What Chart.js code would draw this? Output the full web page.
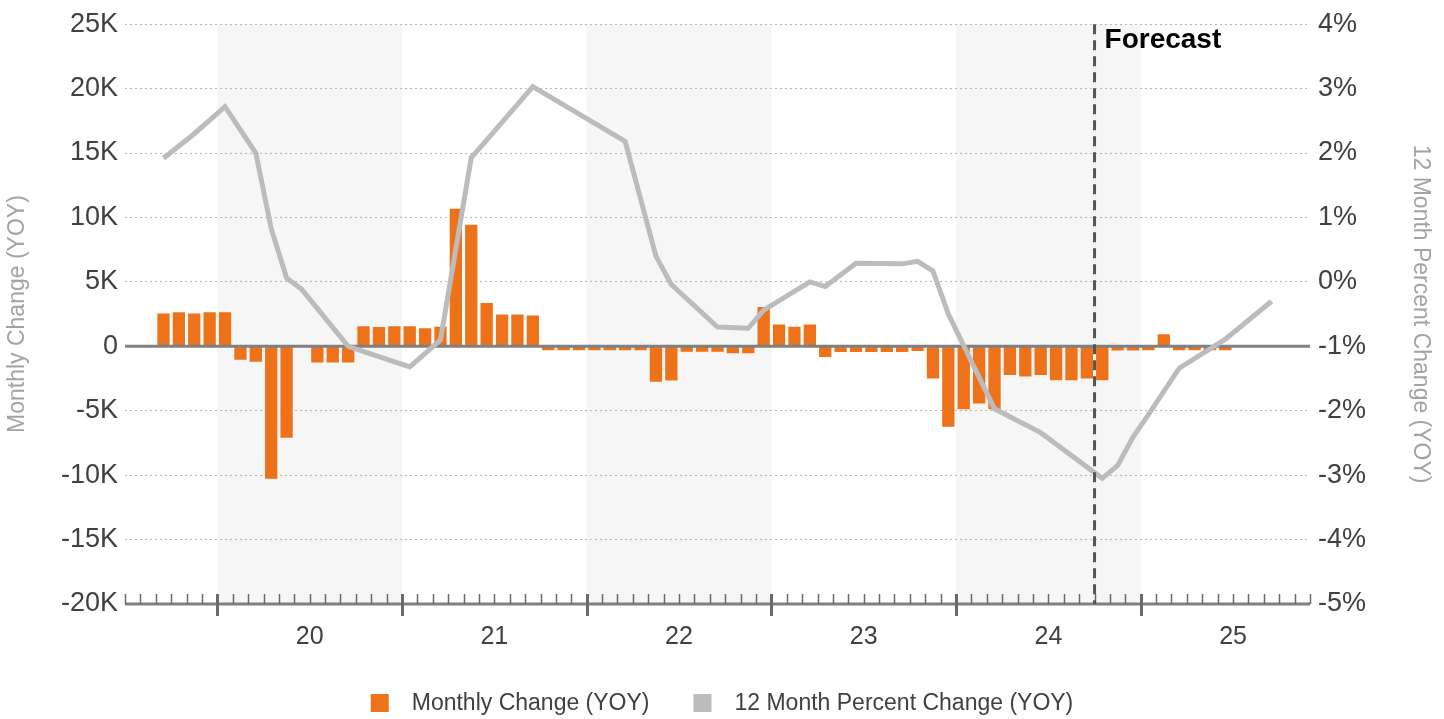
<!DOCTYPE html>
<html>
<head>
<meta charset="utf-8">
<script src="https://cdn.jsdelivr.net/npm/chart.js@4.4.1/dist/chart.umd.min.js"></script>
<style>
    html, body { margin: 0; padding: 0; background: #fff; overflow: hidden; }
</style>
</head>
<body>
<canvas id="chart" width="1444" height="719"></canvas>
<script>
// Months on the axis: Jul 2019 .. Nov 2025
const monthNames = ['Jan', 'Feb', 'Mar', 'Apr', 'May', 'Jun', 'Jul', 'Aug', 'Sep', 'Oct', 'Nov', 'Dec'];
const months = [];
for (let y = 2019; y <= 2025; y++) {
    for (let m = 0; m < 12; m++) {
        if ((y === 2019 && m < 6) || (y === 2025 && m > 10)) continue;
        months.push(monthNames[m] + ' ' + String(y).slice(2));
    }
}

const yearLabels = ['20', '21', '22', '23', '24', '25'];
const shadedYears = ['20', '22', '24'];
const forecastStart = 'Oct 24';

// Monthly change (YOY), units
const monthlyChange = [
    null, null, 2550, 2650, 2550, 2650,
    2650, -1040, -1190, -10270, -7100, null, -1250, -1250, -1250, 1550, 1500, 1550,
    1550, 1400, 1520, 10670, 9430, 3370, 2470, 2470, 2400, -310, -310, -310,
    -310, -310, -310, -310, -2760, -2660, -420, -420, -420, -540, -540, 3060,
    1700, 1520, 1700, -830, -440, -440, -440, -440, -440, -360, -2500, -6240,
    -4880, -4440, -4880, -2220, -2350, -2220, -2630, -2630, -2500, -2630, -330, -330,
    -300, 930, -300, -300, -300, -300, null, null, null, null, null,
];

// 12 month percent change (YOY), %  (null = no visible vertex, line spans it)
const pctChange = [
    null, null, 1.92, null, 2.30, null,
    2.72, null, 2.00, 0.83, 0.06, -0.12, null, null, -1.00, null, null, null,
    -1.32, null, -0.90, null, 1.93, 2.20, null, null, 3.03, null, null, null,
    null, null, 2.18, null, 0.40, -0.04, null, null, -0.70, null, -0.72, -0.44,
    null, null, 0.00, -0.07, null, 0.29, null, null, 0.28, 0.32, 0.17, -0.50,
    null, null, -1.97, null, null, -2.34, null, null, null, -3.05, -2.85, -2.41,
    -2.06, null, -1.34, null, null, -0.89, null, null, -0.30, null, null,
];

const FONT = '"Liberation Sans", Arial, sans-serif';
const ORANGE = '#ee7219';
const GREY_LINE = '#bcbcbc';
const TEXT = '#404040';

const decor = {
    id: 'decor',
    beforeDraw(chart) {
        const { ctx, chartArea: a, scales: { x } } = chart;
        const step = x.getPixelForValue(1) - x.getPixelForValue(0);
        ctx.save();
        ctx.fillStyle = '#f6f6f6';
        shadedYears.forEach(yr => {
            const i = months.indexOf('Jan ' + yr);
            const x0 = x.getPixelForValue(i) - step / 2;
            ctx.fillRect(x0, a.top, step * 12, a.bottom - a.top);
        });
        ctx.restore();
    },
    afterDatasetDraw(chart, args) {
        if (args.index !== 0) return;
        const { ctx, chartArea: a, scales: { x, y } } = chart;
        const step = x.getPixelForValue(1) - x.getPixelForValue(0);
        ctx.save();
        // zero line
        const y0 = y.getPixelForValue(0);
        ctx.strokeStyle = '#808080';
        ctx.lineWidth = 3;
        ctx.beginPath();
        ctx.moveTo(a.left, y0);
        ctx.lineTo(a.right, y0);
        ctx.stroke();
        // bottom axis
        ctx.beginPath();
        ctx.moveTo(a.left, a.bottom);
        ctx.lineTo(a.right, a.bottom);
        ctx.stroke();
        // month ticks, bigger at year starts
        ctx.strokeStyle = '#6a6a6a';
        for (let i = 0; i <= months.length; i++) {
            const bx = Math.round(x.getPixelForValue(0) - step / 2 + i * step) + 0.5;
            const major = i > 0 && i < months.length && months[i].startsWith('Jan');
            ctx.lineWidth = major ? 3 : 1.5;
            ctx.beginPath();
            ctx.moveTo(bx, a.bottom - 10);
            ctx.lineTo(bx, a.bottom + (major ? 12 : 0));
            ctx.stroke();
        }
        ctx.restore();
    },
    afterDatasetsDraw(chart) {
        const { ctx, chartArea: a, scales: { x } } = chart;
        const step = x.getPixelForValue(1) - x.getPixelForValue(0);
        const fx = x.getPixelForValue(months.indexOf(forecastStart)) - step / 2;
        ctx.save();
        ctx.strokeStyle = '#555555';
        ctx.lineWidth = 3;
        ctx.setLineDash([10, 6]);
        ctx.beginPath();
        ctx.moveTo(fx, a.top);
        ctx.lineTo(fx, a.bottom);
        ctx.stroke();
        ctx.setLineDash([]);
        ctx.fillStyle = '#000';
        ctx.font = 'bold 28px ' + FONT;
        ctx.textBaseline = 'middle';
        ctx.textAlign = 'left';
        ctx.fillText('Forecast', fx + 10, a.top + 16);
        ctx.restore();
    },
    afterDraw(chart) {
        const { ctx, chartArea: a, scales: { x } } = chart;
        const step = x.getPixelForValue(1) - x.getPixelForValue(0);
        ctx.save();
        // year labels, centred in each year
        ctx.fillStyle = TEXT;
        ctx.font = '25px ' + FONT;
        ctx.textAlign = 'center';
        ctx.textBaseline = 'middle';
        yearLabels.forEach(yr => {
            const i = months.indexOf('Jan ' + yr);
            const cx = x.getPixelForValue(i) - step / 2 + step * 6;
            ctx.fillText(yr, cx, a.bottom + 33);
        });
        // legend
        const items = chart.data.datasets.map(ds => ({ text: ds.label, color: ds.legendColor }));
        ctx.font = '23px ' + FONT;
        const box = 18, gap = 23, itemGap = 44;
        const widths = items.map(it => box + gap + ctx.measureText(it.text).width);
        const total = widths.reduce((s, w) => s + w, 0) + itemGap * (items.length - 1);
        let lx = chart.width / 2 - total / 2;
        const ly = 703;
        ctx.textAlign = 'left';
        items.forEach((it, i) => {
            ctx.fillStyle = it.color;
            ctx.fillRect(lx, ly - box / 2, box, box);
            ctx.fillStyle = TEXT;
            ctx.fillText(it.text, lx + box + gap, ly + 1);
            lx += widths[i] + itemGap;
        });
        ctx.restore();
    },
};

new Chart(document.getElementById('chart'), {
    type: 'bar',
    data: {
        labels: months,
        datasets: [
            {
                label: 'Monthly Change (YOY)',
                data: monthlyChange,
                backgroundColor: ORANGE,
                legendColor: ORANGE,
                barPercentage: 0.8,
                categoryPercentage: 1,
                yAxisID: 'y',
                order: 1,
            },
            {
                type: 'line',
                label: '12 Month Percent Change (YOY)',
                data: pctChange,
                borderColor: GREY_LINE,
                backgroundColor: GREY_LINE,
                legendColor: GREY_LINE,
                borderWidth: 5,
                pointRadius: 0,
                tension: 0,
                spanGaps: true,
                fill: false,
                yAxisID: 'y1',
                order: 0,
            },
        ],
    },
    options: {
        responsive: false,
        animation: false,
        layout: { padding: { top: 22, bottom: 0, left: 0, right: 0 } },
        plugins: { legend: { display: false }, tooltip: { enabled: false } },
        scales: {
            x: {
                grid: { display: false },
                border: { display: false },
                ticks: { display: false },
                afterFit: s => { s.height = 115; },
            },
            y: {
                position: 'left',
                min: -20000,
                max: 25000,
                afterFit: s => { s.width = 125; },
                ticks: {
                    stepSize: 5000,
                    padding: 7,
                    color: TEXT,
                    font: { family: FONT, size: 27 },
                    callback: v => v === 0 ? '0' : (v / 1000) + 'K',
                },
                grid: {
                    drawTicks: false,
                    lineWidth: 1,
                    color: c => (c.tick && (c.tick.value === 0 || c.tick.value === -20000)) ? 'rgba(0,0,0,0)' : '#b8b8b8',
                },
                border: { display: false, dash: [2, 3] },
                title: {
                    display: true,
                    text: 'Monthly Change (YOY)',
                    color: '#a3a3a3',
                    font: { family: FONT, size: 23 },
                    padding: { top: 4, bottom: 0 },
                },
            },
            y1: {
                position: 'right',
                min: -5,
                max: 4,
                afterFit: s => { s.width = 134; },
                ticks: {
                    stepSize: 1,
                    padding: 8,
                    color: TEXT,
                    font: { family: FONT, size: 27 },
                    callback: v => v + '%',
                },
                grid: { display: false, drawTicks: false },
                border: { display: false },
                title: {
                    display: true,
                    text: '12 Month Percent Change (YOY)',
                    color: '#a3a3a3',
                    font: { family: FONT, size: 23 },
                    padding: { top: 10, bottom: 0 },
                },
            },
        },
    },
    plugins: [decor],
});
</script>
</body>
</html>
